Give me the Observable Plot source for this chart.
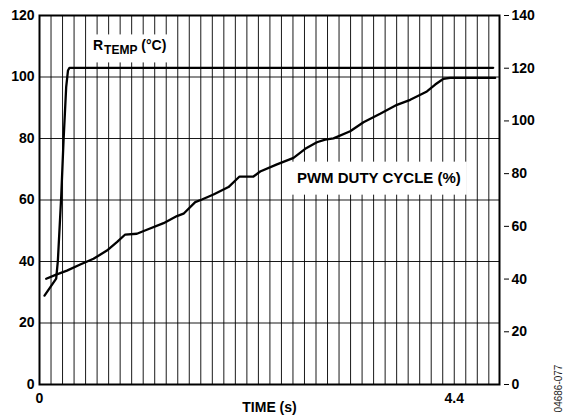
<!DOCTYPE html>
<html>
<head>
<meta charset="utf-8">
<script src="https://cdn.jsdelivr.net/npm/d3@7"></script>
<script src="https://cdn.jsdelivr.net/npm/@observablehq/plot@0.6"></script>
<style>
  html, body { margin: 0; padding: 0; background: #fff; }
  #chart { width: 564px; height: 416px; }
</style>
</head>
<body>
<div id="chart"></div>
<script>
// ---- data (time in seconds) ----
const rtempTime  = [0.053, 0.177, 0.195, 0.230, 0.255, 0.283, 0.302, 0.318, 4.813];
const rtempValue = [28.9, 34.4, 40.3, 60.9, 79.3, 96.7, 102.1, 103, 103];

const pwmTime  = [0.071, 0.177, 0.291, 0.432, 0.573, 0.715, 0.821, 0.909, 1.033, 1.139,
                  1.316, 1.458, 1.528, 1.652, 1.723, 1.846, 2.005, 2.122, 2.270, 2.341,
                  2.519, 2.695, 2.819, 2.943, 3.031, 3.119, 3.296, 3.437, 3.614, 3.792,
                  3.933, 4.110, 4.198, 4.286, 4.357, 4.834];
const pwmValue = [40.1, 41.7, 43.2, 45.5, 47.7, 50.8, 54.0, 56.9, 57.2, 58.7,
                  61.2, 63.9, 64.8, 69.2, 70.2, 72.1, 74.9, 78.9, 78.9, 80.8,
                  83.5, 86.0, 89.4, 91.9, 92.9, 93.4, 96.1, 99.5, 102.7, 106.1,
                  108.0, 111.2, 113.8, 116.0, 116.3, 116.3];

const leftTicks  = [0, 20, 40, 60, 80, 100, 120];
const rightTicks = [0, 20, 40, 60, 80, 100, 120, 140];
const xTickLabels = [0, 4.4];
const gridStep = 4.4 / 36;     // time between vertical grid lines
const gridCount = 39;
const xMax = 4.88;
const leftMax = 120, rightMax = 140;

// annotation labels: [time, value on left (°C) scale]
const labels = [
  {t: 0.567, v: 110.1, text: "RTEMP (°C)", size: 14, id: "rtemp"},
  {t: 2.731, v: 67.2, text: "PWM DUTY CYCLE (%)", size: 15, id: "pwm"}
];

const toLeft = v => v * leftMax / rightMax;
const rtemp = rtempTime.map((t, i) => ({t, v: rtempValue[i]}));
const pwm = pwmTime.map((t, i) => ({t, v: toLeft(pwmValue[i])}));
const vgrid = d3.range(1, gridCount + 1).map(k => k * gridStep);
const hgrid = leftTicks.filter(v => v > 0 && v < leftMax);

const font = "'Liberation Sans', Arial, Helvetica, sans-serif";

const chart = Plot.plot({
  width: 564, height: 416,
  marginLeft: 39, marginRight: 65, marginTop: 15, marginBottom: 32,
  x: {domain: [0, xMax]},
  y: {domain: [0, leftMax]},
  style: {fontFamily: font, fontWeight: "bold", fontSize: "14px", color: "#000", background: "#fff"},
  marks: [
    Plot.ruleX(vgrid, {stroke: "#000", strokeWidth: 1, strokeOpacity: 0.9}),
    Plot.ruleY(hgrid, {stroke: "#000", strokeWidth: 1, strokeOpacity: 0.9}),
    Plot.text(labels, {x: "t", y: "v", text: "text", fontSize: "size", textAnchor: "start", lineAnchor: "middle", fill: "#000"}),
    Plot.line(pwm, {x: "t", y: "v", stroke: "#000", strokeWidth: 2.3, curve: "linear"}),
    Plot.line(rtemp, {x: "t", y: "v", stroke: "#000", strokeWidth: 2.3, curve: "linear"}),
    Plot.frame({stroke: "#000", strokeWidth: 2}),
    Plot.axisY({anchor: "left", ticks: leftTicks, tickSize: 0, tickPadding: 5, label: null, fontSize: 14}),
    Plot.axisY({anchor: "right", ticks: rightTicks.map(toLeft), tickFormat: v => String(Math.round(v * rightMax / leftMax)),
                tickSize: 5, tickPadding: 3, dx: 4, label: null, fontSize: 14}),
    Plot.axisX({ticks: xTickLabels, tickFormat: d => String(d), tickSize: 0, tickPadding: 9, label: null, fontSize: 14}),
    Plot.text(["TIME (s)"], {frameAnchor: "bottom", dy: 23, lineAnchor: "middle", fontSize: 14, fill: "#000"}),
    Plot.text(["04686-077"], {frameAnchor: "bottom-right", dx: 59, dy: 4, rotate: -90, textAnchor: "middle", lineAnchor: "middle", fontSize: 10, fontWeight: "normal", fill: "#222"})
  ]
});

document.getElementById("chart").appendChild(chart);

// post-process annotation labels: subscript + white backing boxes
const svgNS = "http://www.w3.org/2000/svg";
chart.querySelectorAll("text").forEach(el => {
  const txt = el.textContent;
  if (txt === "RTEMP (°C)") {
    while (el.firstChild) el.removeChild(el.firstChild);
    const a = document.createElementNS(svgNS, "tspan"); a.textContent = "R"; a.setAttribute("font-size", 14);
    const b = document.createElementNS(svgNS, "tspan"); b.textContent = "TEMP"; b.setAttribute("font-size", 12); b.setAttribute("dy", "4"); b.setAttribute("dx", "1");
    const c = document.createElementNS(svgNS, "tspan"); c.textContent = " (°C)"; c.setAttribute("font-size", 14); c.setAttribute("dy", "-4");
    el.append(a, b, c);
  }
});
chart.querySelectorAll("text").forEach(el => {
  const txt = el.textContent;
  if (txt === "RTEMP (°C)" || txt === "PWM DUTY CYCLE (%)") {
    const bb = el.getBBox();
    const r = document.createElementNS(svgNS, "rect");
    const padX = 6, padY = txt.startsWith("PWM") ? 9 : 5;
    r.setAttribute("x", bb.x - padX); r.setAttribute("y", bb.y - padY + 2);
    r.setAttribute("width", bb.width + 2 * padX); r.setAttribute("height", bb.height + 2 * padY - 2);
    r.setAttribute("fill", "#fff");
    const tr = el.getAttribute("transform");
    if (tr) r.setAttribute("transform", tr);
    el.parentNode.insertBefore(r, el);
  }
});
</script>
</body>
</html>
